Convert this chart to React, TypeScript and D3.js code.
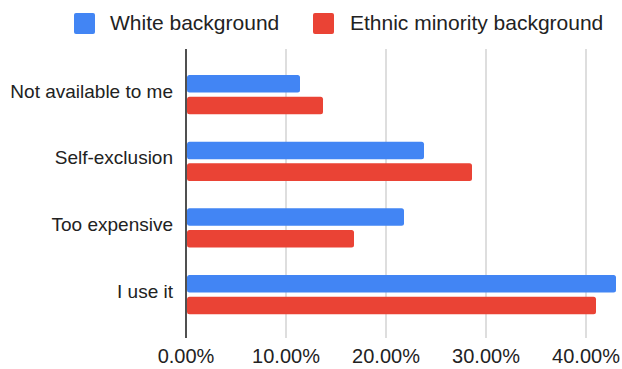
import React from "react";
import * as d3 from "d3";

// Reasons, top to bottom
const categories = ["Not available to me", "Self-exclusion", "Too expensive", "I use it"];
const seriesNames = ["White background", "Ethnic minority background"];
const whiteValues = [0.114, 0.238, 0.218, 0.43];
const minorityValues = [0.137, 0.286, 0.168, 0.41];
const tickValues = [0, 0.1, 0.2, 0.3, 0.4];
const colors = ["#4285F4", "#EA4335"];

const W = 622;
const H = 369;
const FONT = "'Liberation Sans', Arial, Helvetica, sans-serif";

export default function App() {
  const x = d3.scaleLinear().domain([0, 0.4]).range([186, 586]);
  const y = d3.scaleBand<string>().domain(categories).range([61.3, 327.9]).paddingInner(0).paddingOuter(0);
  const inner = d3
    .scaleBand<string>()
    .domain(seriesNames)
    .range([0, y.bandwidth()])
    .paddingInner(0.19)
    .paddingOuter(0.63);
  const fmt = d3.format(".2%");
  const series = [whiteValues, minorityValues];

  const gridTop = 49;
  const gridBottom = 338;

  const legend = [
    { name: seriesNames[0], sx: 74, tx: 110 },
    { name: seriesNames[1], sx: 313, tx: 350 },
  ];

  return (
    <svg
      width={W}
      height={H}
      style={{ position: "absolute", left: 0, top: 0, background: "#fff" }}
      fontFamily={FONT}
    >
      <rect x={0} y={0} width={W} height={H} fill="#fff" />

      {/* legend */}
      {legend.map((l, i) => (
        <g key={l.name}>
          <rect x={l.sx} y={13} width={21} height={21} rx={2} fill={colors[i]} />
          <text x={l.tx} y={30} fontSize={21} fill="#222">
            {l.name}
          </text>
        </g>
      ))}

      {/* gridlines */}
      {tickValues.map((t) => (
        <line
          key={t}
          x1={x(t)}
          x2={x(t)}
          y1={gridTop}
          y2={gridBottom}
          stroke={t === 0 ? "#444" : "#cccccc"}
          strokeWidth={t === 0 ? 1.5 : 1.3}
        />
      ))}

      {/* bars */}
      {categories.map((c, ci) => (
        <g key={c} transform={`translate(0,${y(c)})`}>
          {series.map((vals, si) => (
            <rect
              key={si}
              x={x(0) + 1}
              y={inner(seriesNames[si])}
              width={x(vals[ci]) - x(0) - 1}
              height={inner.bandwidth()}
              rx={2.5}
              fill={colors[si]}
            />
          ))}
        </g>
      ))}
      {/* axis line drawn over the bars */}
      <line x1={x(0)} x2={x(0)} y1={gridTop} y2={gridBottom} stroke="#444" strokeWidth={1.5} />

      {/* category labels */}
      {categories.map((c) => (
        <text
          key={c}
          x={173}
          y={(y(c) as number) + y.bandwidth() / 2 - 2}
          textAnchor="end"
          dominantBaseline="middle"
          fontSize={19}
          fill="#222"
        >
          {c}
        </text>
      ))}

      {/* tick labels */}
      {tickValues.map((t) => (
        <text key={t} x={x(t)} y={363} textAnchor="middle" fontSize={20} fill="#222">
          {fmt(t)}
        </text>
      ))}
    </svg>
  );
}
